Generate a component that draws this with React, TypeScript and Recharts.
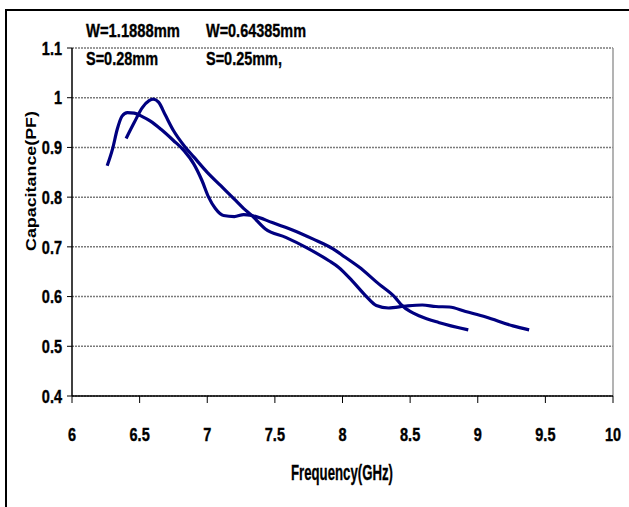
import React from 'react';
import { LineChart, Line, XAxis, YAxis, CartesianGrid, ReferenceLine } from 'recharts';

const freqA = [6.26, 6.3, 6.335, 6.37, 6.41, 6.46, 6.52, 6.58, 6.66, 6.75, 6.83, 6.9, 6.96, 7.01, 7.06, 7.12, 7.2, 7.27, 7.33, 7.48, 7.63, 7.78, 7.93, 8.02, 8.12, 8.27, 8.39, 8.44, 8.5, 8.57, 8.71, 8.93];
const capA = [0.863, 0.897, 0.937, 0.963, 0.97, 0.969, 0.962, 0.953, 0.936, 0.914, 0.893, 0.867, 0.834, 0.8, 0.777, 0.763, 0.761, 0.765, 0.763, 0.749, 0.734, 0.716, 0.696, 0.679, 0.66, 0.625, 0.598, 0.582, 0.57, 0.561, 0.548, 0.533];

const freqB = [6.4, 6.46, 6.52, 6.57, 6.6, 6.64, 6.69, 6.75, 6.83, 6.9, 7.0, 7.1, 7.2, 7.27, 7.33, 7.43, 7.58, 7.73, 7.9, 7.97, 8.07, 8.17, 8.25, 8.34, 8.47, 8.59, 8.69, 8.79, 8.91, 9.06, 9.26, 9.38];
const capB = [0.918, 0.95, 0.98, 0.994, 0.997, 0.991, 0.965, 0.934, 0.903, 0.881, 0.85, 0.823, 0.796, 0.777, 0.763, 0.736, 0.719, 0.699, 0.672, 0.659, 0.632, 0.602, 0.582, 0.577, 0.581, 0.583, 0.58, 0.579, 0.57, 0.559, 0.541, 0.533];

const xTicks = [6, 6.5, 7, 7.5, 8, 8.5, 9, 9.5, 10];
const yTicks = [0.4, 0.5, 0.6, 0.7, 0.8, 0.9, 1, 1.1];

const noteRow1 = ['W=1.1888mm', 'W=0.64385mm'];
const noteRow2 = ['S=0.28mm', 'S=0.25mm,'];
const xTitle = 'Frequency(GHz)';
const yTitle = 'Capacitance(PF)';

const dataA = freqA.map((f, i) => ({ f, c: capA[i] }));
const dataB = freqB.map((f, i) => ({ f, c: capB[i] }));

const font = '"Liberation Sans", Arial, sans-serif';
const SQ = 0.78;
const TICK_FS = 18.6;

const XTick = (props: any) => {
  const { x, y, payload } = props;
  return (
    <text transform={`translate(${x},${y}) scale(${SQ},1)`} x={0} y={0} dy={TICK_FS * 0.71} textAnchor="middle" fontSize={TICK_FS} fontWeight="bold" fontFamily={font} fill="#000" stroke="#000" strokeWidth={0.4}>
      {String(payload.value)}
    </text>
  );
};

const YTick = (props: any) => {
  const { x, y, payload } = props;
  return (
    <text transform={`translate(${x},${y}) scale(${SQ},1)`} x={0} y={0} dy={TICK_FS * 0.36} textAnchor="end" fontSize={TICK_FS} fontWeight="bold" fontFamily={font} fill="#000" stroke="#000" strokeWidth={0.4}>
      {String(payload.value)}
    </text>
  );
};

const noteStyle = { fontSize: 19, fontWeight: 'bold' as const, fontFamily: font, fill: '#000', stroke: '#000', strokeWidth: 0.35 };

export default function App() {
  return (
    <div style={{ position: 'absolute', left: 0, top: 0, width: 629, height: 507, overflow: 'hidden', background: '#fff' }}>
      <div style={{ position: 'absolute', left: 5, top: 9, width: 700, height: 600, borderLeft: '2px solid #000', borderTop: '2px solid #000' }} />
      <div style={{ position: 'absolute', left: 0, top: 0 }}>
        <LineChart width={629} height={507} margin={{ top: 48, right: 16, left: 12, bottom: 51 }}>
          <CartesianGrid horizontal={true} vertical={false} stroke="#7a7a7a" strokeWidth={1.5} strokeDasharray="2 1" />
          <ReferenceLine x={10} stroke="#9a9a9a" strokeWidth={1.5} ifOverflow="visible" />
          <XAxis
            type="number"
            dataKey="f"
            domain={[6, 10]}
            ticks={xTicks}
            allowDataOverflow
            height={60}
            tickSize={7}
            tickMargin={25}
            axisLine={{ stroke: '#000', strokeWidth: 1.5 }}
            tickLine={{ stroke: '#000' }}
            tick={<XTick />}
          />
          <YAxis
            type="number"
            dataKey="c"
            domain={[0.4, 1.1]}
            ticks={yTicks}
            allowDataOverflow
            width={60}
            tickSize={5}
            tickMargin={5}
            axisLine={{ stroke: '#000', strokeWidth: 1.5 }}
            tickLine={{ stroke: '#000' }}
            tick={<YTick />}
          />
          <Line data={dataA} dataKey="c" type="monotone" stroke="#000080" strokeWidth={3.2} dot={false} isAnimationActive={false} />
          <Line data={dataB} dataKey="c" type="monotone" stroke="#000080" strokeWidth={3.2} dot={false} isAnimationActive={false} />
        </LineChart>
      </div>
      <svg width={629} height={507} style={{ position: 'absolute', left: 0, top: 0, pointerEvents: 'none' }}>
        <text x={86} y={37} textLength={94} lengthAdjust="spacingAndGlyphs" {...noteStyle}>{noteRow1[0]}</text>
        <text x={206} y={37} textLength={100} lengthAdjust="spacingAndGlyphs" {...noteStyle}>{noteRow1[1]}</text>
        <text x={86} y={65} textLength={72} lengthAdjust="spacingAndGlyphs" {...noteStyle}>{noteRow2[0]}</text>
        <text x={206} y={65} textLength={76} lengthAdjust="spacingAndGlyphs" {...noteStyle}>{noteRow2[1]}</text>
        <text x={291} y={480} textLength={102} lengthAdjust="spacingAndGlyphs" fontSize={22} fontWeight="bold" fontFamily={font} fill="#000" stroke="#000" strokeWidth={0.3}>{xTitle}</text>
        <text x={0} y={0} transform="translate(36,181) rotate(-90)" textAnchor="middle" textLength={140} lengthAdjust="spacingAndGlyphs" fontSize={15} fontWeight="bold" fontFamily={font} fill="#000">{yTitle}</text>
      </svg>
    </div>
  );
}
